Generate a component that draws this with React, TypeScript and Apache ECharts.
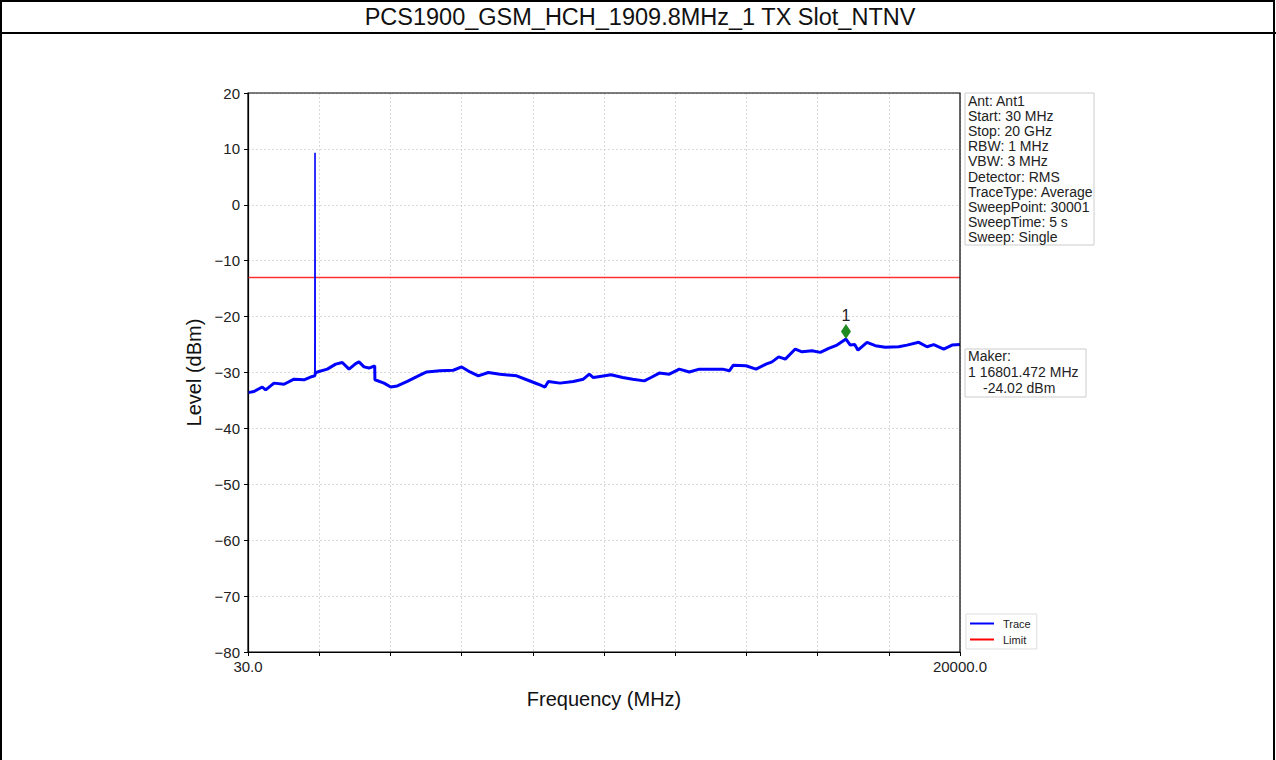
import React, { useEffect, useRef } from "react";
import * as echarts from "echarts";

const TITLE = "PCS1900_GSM_HCH_1909.8MHz_1 TX Slot_NTNV";
const X_NAME = "Frequency (MHz)";
const Y_NAME = "Level (dBm)";

const X_MIN = 30;
const X_MAX = 20000;
const X_STEP = 1997;
const Y_MIN = -80;
const Y_MAX = 20;
const Y_STEP = 10;

const LIMIT_DBM = -13;

const freqMHz = [
  30, 198, 431, 526, 759, 1040, 1320, 1601, 1834, 1905, 1909.8, 1914,
  1974, 2254, 2490, 2675, 2863, 3051, 3143, 3284, 3424, 3584, 3590,
  3845, 4033, 4218, 4498, 4779, 4966, 5042, 5415, 5788, 6024, 6257,
  6489, 6770, 7098, 7566, 7847, 8172, 8360, 8453, 8781, 9154, 9435,
  9603, 9715, 9903, 10211, 10540, 10820, 11146, 11333, 11566, 11847,
  12127, 12408, 12688, 13064, 13344, 13530, 13642, 13998, 14279, 14559,
  14728, 14915, 15100, 15381, 15569, 15849, 16082, 16318, 16551,
  16801.472, 16923, 17047, 17139, 17392, 17625, 17905, 18281, 18514,
  18842, 19075, 19263, 19543, 19776, 20000,
];

const levelDBm = [
  -33.6, -33.4, -32.6, -33.1, -31.9, -32.1, -31.2, -31.3, -30.7, -30.6, 9.3, -30.2,
  -29.9, -29.4, -28.5, -28.2, -29.4, -28.4, -28.1, -29.0, -29.2, -28.8, -31.3,
  -31.9, -32.6, -32.4, -31.6, -30.7, -30.1, -29.9, -29.7, -29.6, -29.0, -29.9,
  -30.6, -30.0, -30.3, -30.6, -31.3, -32.1, -32.6, -31.6, -31.9, -31.6, -31.2,
  -30.3, -30.9, -30.7, -30.4, -30.9, -31.2, -31.5, -30.9, -30.1, -30.3,
  -29.4, -29.9, -29.4, -29.4, -29.4, -29.7, -28.7, -28.8, -29.4, -28.5,
  -28.1, -27.2, -27.6, -25.8, -26.3, -26.1, -26.4, -25.7, -25.1,
  -24.02, -25.1, -25.0, -26.0, -24.6, -25.2, -25.5, -25.4, -25.1,
  -24.6, -25.4, -25.0, -25.8, -25.1, -25.0,
];

// the carrier spike at the transmit frequency
const SPIKE_FREQ = 1909.8;

const MARKER_FREQ = 16801.472;
const MARKER_LEVEL = -24.02;
const MARKER_NAME = "1";

const infoLines = [
  "Ant: Ant1",
  "Start: 30 MHz",
  "Stop: 20 GHz",
  "RBW: 1 MHz",
  "VBW: 3 MHz",
  "Detector: RMS",
  "TraceType: Average",
  "SweepPoint: 30001",
  "SweepTime: 5 s",
  "Sweep: Single",
];

const makerTitle = "Maker:";
const makerLine1 = "1 16801.472 MHz";
const makerLine2 = "-24.02 dBm";

const FONT = "'Liberation Sans', Arial, sans-serif";

export default function App() {
  const ref = useRef<HTMLDivElement>(null);

  useEffect(() => {
    if (!ref.current) return;
    const chart = echarts.init(ref.current, null, { renderer: "svg" });
    const allPts = freqMHz.map((f, i) => [f, levelDBm[i]]);
    const spikeIdx = freqMHz.indexOf(SPIKE_FREQ);
    const trace = allPts.filter((_, i) => i !== spikeIdx);
    const spike = allPts.slice(spikeIdx - 1, spikeIdx + 2);
    const limit = [
      [X_MIN, LIMIT_DBM],
      [X_MAX, LIMIT_DBM],
    ];

    chart.setOption({
      animation: false,
      backgroundColor: "#ffffff",
      textStyle: { fontFamily: FONT },
      grid: {
        left: 248,
        top: 93,
        width: 712,
        height: 559,
        show: false,
      },
      legend: {
        data: ["Trace", "Limit"],
        orient: "vertical",
        left: 966,
        top: 614,
        icon: "rect",
        itemWidth: 24,
        itemHeight: 2,
        itemGap: 5,
        padding: [4, 6, 4, 4],
        borderColor: "#dddddd",
        borderWidth: 1,
        backgroundColor: "#fff",
        textStyle: { fontSize: 11, color: "#222", fontFamily: FONT, padding: [0, 0, 0, 4] },
      },
      xAxis: {
        type: "value",
        min: X_MIN,
        max: X_MAX,
        interval: X_STEP,
        name: X_NAME,
        nameLocation: "middle",
        nameGap: 37,
        nameTextStyle: { fontSize: 20, color: "#111", fontFamily: FONT },
        axisLine: { show: true, onZero: false, lineStyle: { color: "#000", width: 1.2 } },
        axisTick: { show: true, inside: false, length: 4, lineStyle: { color: "#000" } },
        axisLabel: {
          show: true,
          showMinLabel: true,
          showMaxLabel: true,
          fontSize: 15,
          color: "#222",
          margin: 7,
          formatter: (v: number) =>
            Math.abs(v - X_MIN) < 1e-6 ? X_MIN.toFixed(1) : Math.abs(v - X_MAX) < 1e-6 ? X_MAX.toFixed(1) : "",
        },
        splitLine: { show: true, lineStyle: { color: "#cfcfcf", type: [2, 2], width: 0.8 } },
      },
      yAxis: {
        type: "value",
        min: Y_MIN,
        max: Y_MAX,
        interval: Y_STEP,
        name: Y_NAME,
        nameLocation: "middle",
        nameGap: 40,
        nameRotate: 90,
        nameTextStyle: { fontSize: 20, color: "#111", fontFamily: FONT },
        axisLine: { show: true, onZero: false, lineStyle: { color: "#000", width: 1.2 } },
        axisTick: { show: true, inside: false, length: 4, lineStyle: { color: "#000" } },
        axisLabel: {
          fontSize: 15,
          color: "#222",
          margin: 8,
          formatter: (v: number) => String(v).replace("-", "\u2212"),
        },
        splitLine: { show: true, lineStyle: { color: "#cfcfcf", type: [2, 2], width: 0.8 } },
      },
      series: [
        {
          name: "Trace",
          type: "line",
          data: trace,
          showSymbol: false,
          symbol: "none",
          color: "#0000ff",
          lineStyle: { color: "#0000ff", width: 3 },
          z: 3,
          markPoint: {
            silent: true,
            data: [
              {
                coord: [MARKER_FREQ, MARKER_LEVEL],
                symbol: "diamond",
                symbolSize: [10, 15],
                symbolOffset: [0, "-50%"],
                itemStyle: { color: "#1f8a1f" },
                label: {
                  show: true,
                  formatter: MARKER_NAME,
                  position: "top",
                  distance: 1,
                  fontSize: 16,
                  color: "#222",
                  fontFamily: FONT,
                },
              },
            ],
          },
        },
        {
          name: "Trace",
          type: "line",
          data: spike,
          showSymbol: false,
          symbol: "none",
          color: "#0000ff",
          lineStyle: { color: "#0000ff", width: 1.6 },
          z: 3,
        },
        {
          name: "Limit",
          type: "line",
          data: limit,
          showSymbol: false,
          symbol: "none",
          color: "#ff0000",
          lineStyle: { color: "#ff3030", width: 1.4 },
          z: 2,
        },
      ],
      graphic: [
        {
          type: "rect",
          shape: { x: 1, y: 1, width: 1273, height: 800 },
          style: { fill: "none", stroke: "#000", lineWidth: 2 },
          silent: true,
        },
        {
          type: "line",
          shape: { x1: 0, y1: 33, x2: 1276, y2: 33 },
          style: { stroke: "#000", lineWidth: 2 },
          silent: true,
        },
        {
          type: "rect",
          shape: { x: 248, y: 93, width: 712, height: 559 },
          style: { fill: "none", stroke: "#000", lineWidth: 1.2 },
          silent: true,
          z: 10,
        },
        {
          type: "text",
          x: 640,
          y: 17,
          style: {
            text: TITLE,
            font: `23.5px ${FONT}`,
            fill: "#111",
            textAlign: "center",
            textVerticalAlign: "middle",
          },
        },
        {
          type: "rect",
          shape: { x: 965, y: 93, width: 129, height: 152 },
          style: { fill: "#fff", stroke: "#cccccc", lineWidth: 1 },
        },
        {
          type: "text",
          x: 968,
          y: 93.5,
          style: {
            text: infoLines.join("\n"),
            font: `14px ${FONT}`,
            lineHeight: 15.1,
            fill: "#222",
            textVerticalAlign: "top",
          },
        },
        {
          type: "rect",
          shape: { x: 965, y: 349, width: 121, height: 48 },
          style: { fill: "#fff", stroke: "#cccccc", lineWidth: 1 },
        },
        {
          type: "text",
          x: 968,
          y: 356,
          style: { text: makerTitle, font: `14px ${FONT}`, fill: "#222", textVerticalAlign: "middle" },
        },
        {
          type: "text",
          x: 968,
          y: 372,
          style: { text: makerLine1, font: `14px ${FONT}`, fill: "#222", textVerticalAlign: "middle" },
        },
        {
          type: "text",
          x: 983,
          y: 388,
          style: { text: makerLine2, font: `14px ${FONT}`, fill: "#222", textVerticalAlign: "middle" },
        },
      ],
    });

    return () => chart.dispose();
  }, []);

  return (
    <div
      ref={ref}
      style={{ position: "absolute", left: 0, top: 0, width: 1276, height: 760 }}
    />
  );
}
